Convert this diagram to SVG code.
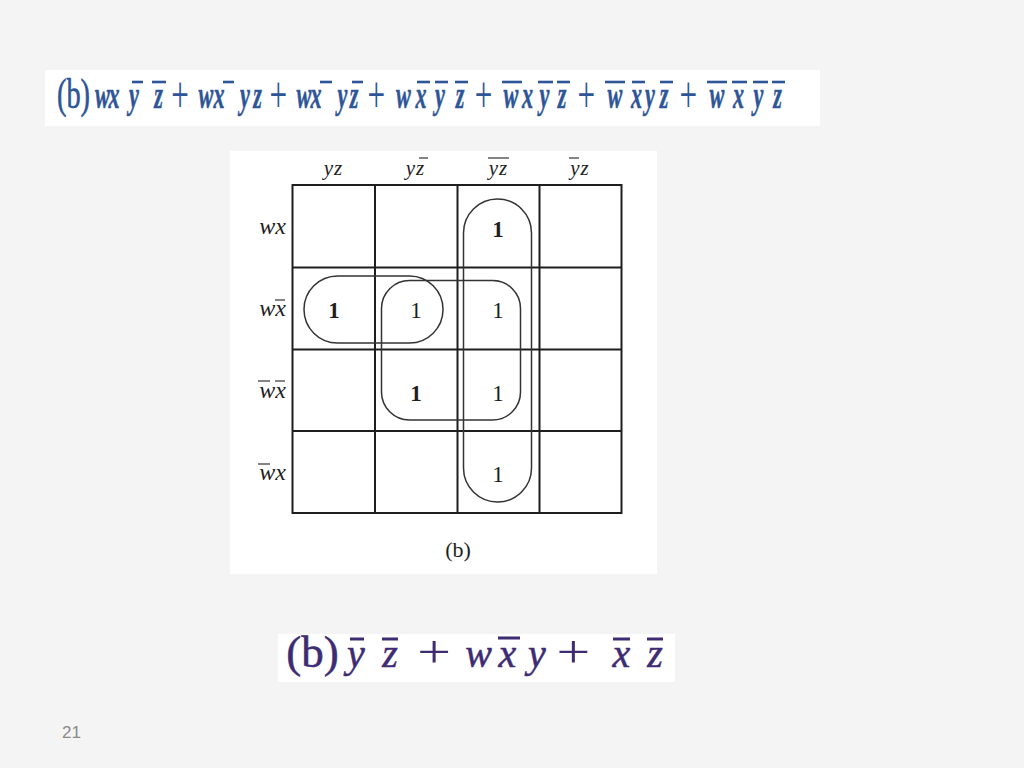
<svg xmlns="http://www.w3.org/2000/svg" width="1024" height="768" viewBox="0 0 1024 768">
<style>
.f1{font-family:"Liberation Serif","Times New Roman",serif;fill:#2e5597}
.bar1{stroke:#2e5597;stroke-width:2.6}
.f2{font-family:"Liberation Serif","Times New Roman",serif;fill:#3d2b73}
.bar2{stroke:#3d2b73;stroke-width:3}
.km{font-family:"Liberation Serif","Times New Roman",serif;fill:#1e1e1e;font-style:italic}
.cap{font-family:"Liberation Serif","Times New Roman",serif;fill:#1e1e1e;font-size:22px;text-anchor:middle}
.one{font-family:"Liberation Serif","Times New Roman",serif;fill:#1e1e1e;font-size:23px;text-anchor:middle}
.grid{stroke:#1e1e1e;stroke-width:2;fill:none}
.loop{stroke:#333;stroke-width:1.5;fill:none}
.kbar{stroke:#333;stroke-width:1.2}
.lt{font-size:37px;font-style:italic;font-weight:bold;text-anchor:middle;stroke:#2e5597;stroke-width:0.5}
.p1{font-size:52px;text-anchor:middle}
.p2{font-size:46px;text-anchor:middle}
</style>
<rect x="0" y="0" width="1024" height="768" fill="#f4f4f4"/>

<g id="top-formula">
<rect x="45" y="70" width="775" height="56" fill="#ffffff"/>
<text class="f1" transform="translate(73.5,108) scale(0.66,1)" font-size="43" text-anchor="middle" stroke="#2e5597" stroke-width="0.6">(b)</text>
<g transform="scale(0.6,1)">
<text class="f1 lt" y="108" x="170.8 190 223.3 264.2">wxyz</text>
<text class="f1 lt" y="108" x="343.3 365 408.3 429.2">wxyz</text>
<text class="f1 lt" y="108" x="506.7 526.7 570.8 590">wxyz</text>
<text class="f1 lt" y="108" x="672.5 701.7 733.3 766.7">wxyz</text>
<text class="f1 lt" y="108" x="851.7 879.2 907.5 936.7">wxyz</text>
<text class="f1 lt" y="108" x="1025 1060.8 1083.3 1106.7">wxyz</text>
<text class="f1 lt" y="108" x="1195 1230.8 1264.2 1295.8">wxyz</text>
<text class="f1 p1" y="112" x="300">+</text>
<text class="f1 p1" y="112" x="464">+</text>
<text class="f1 p1" y="112" x="627">+</text>
<text class="f1 p1" y="112" x="806">+</text>
<text class="f1 p1" y="112" x="977">+</text>
<text class="f1 p1" y="112" x="1147">+</text>
</g>
<g class="bar1">
<line x1="132" y1="82" x2="143" y2="82"/><line x1="152" y1="82" x2="166" y2="82"/>
<line x1="223" y1="82" x2="234" y2="82"/>
<line x1="320" y1="82" x2="332" y2="82"/><line x1="352" y1="82" x2="363" y2="82"/>
<line x1="417" y1="82" x2="430" y2="82"/><line x1="435" y1="82" x2="448" y2="82"/><line x1="455" y1="82" x2="468" y2="82"/>
<line x1="502" y1="82" x2="522" y2="82"/><line x1="538" y1="82" x2="553" y2="82"/><line x1="557" y1="82" x2="570" y2="82"/>
<line x1="605" y1="82" x2="625" y2="82"/><line x1="632" y1="82" x2="645" y2="82"/><line x1="660" y1="82" x2="673" y2="82"/>
<line x1="707" y1="82" x2="727" y2="82"/><line x1="732" y1="82" x2="747" y2="82"/><line x1="753" y1="82" x2="768" y2="82"/><line x1="772" y1="82" x2="785" y2="82"/>
</g>
</g>

<g id="kmap">
<rect x="230" y="151" width="427" height="423" fill="#ffffff"/>
<g class="grid">
<rect x="292.5" y="185" width="329" height="328"/>
<line x1="375" y1="185" x2="375" y2="513"/>
<line x1="457.5" y1="185" x2="457.5" y2="513"/>
<line x1="539.5" y1="185" x2="539.5" y2="513"/>
<line x1="292.5" y1="267.5" x2="621.5" y2="267.5"/>
<line x1="292.5" y1="349.5" x2="621.5" y2="349.5"/>
<line x1="292.5" y1="431" x2="621.5" y2="431"/>
</g>
<g id="col-labels">
<text class="km" font-size="21" text-anchor="middle" x="333.5" y="175" letter-spacing="1">yz</text>
<text class="km" font-size="21" text-anchor="middle" x="415.5" y="175" letter-spacing="1">yz</text>
<text class="km" font-size="21" text-anchor="middle" x="498.5" y="175" letter-spacing="1">yz</text>
<text class="km" font-size="21" text-anchor="middle" x="580" y="175" letter-spacing="1">yz</text>
<g class="kbar">
<line x1="419" y1="158" x2="428" y2="158"/>
<line x1="488" y1="158" x2="509" y2="158"/>
<line x1="569" y1="158" x2="579" y2="158"/>
</g>
</g>
<g id="row-labels">
<text class="km" font-size="24" text-anchor="end" x="286" y="234">wx</text>
<text class="km" font-size="24" text-anchor="end" x="286" y="316">wx</text>
<text class="km" font-size="24" text-anchor="end" x="286" y="398">wx</text>
<text class="km" font-size="24" text-anchor="end" x="286" y="480">wx</text>
<g class="kbar">
<line x1="275" y1="300" x2="285" y2="300"/>
<line x1="258" y1="381" x2="270" y2="381"/><line x1="275" y1="381" x2="285" y2="381"/>
<line x1="258" y1="464" x2="270" y2="464"/>
</g>
</g>
<g id="ones">
<text class="one" x="498" y="237" font-weight="bold">1</text>
<text class="one" x="334" y="318" font-weight="bold">1</text>
<text class="one" x="416" y="318">1</text>
<text class="one" x="498" y="318">1</text>
<text class="one" x="416" y="401" font-weight="bold">1</text>
<text class="one" x="498" y="401">1</text>
<text class="one" x="498" y="482">1</text>
</g>
<g id="loops">
<rect class="loop" x="463.5" y="199" width="68" height="303" rx="34" ry="34"/>
<rect class="loop" x="304" y="276" width="139" height="67" rx="33.5" ry="33.5"/>
<rect class="loop" x="381.5" y="280.5" width="139" height="139.5" rx="28" ry="28"/>
</g>
<text class="cap" x="458" y="557">(b)</text>
</g>

<g id="bottom-formula">
<rect x="278" y="634" width="397" height="48" fill="#ffffff"/>
<text class="f2" x="312.5" y="667" font-size="45" text-anchor="middle" stroke="#3d2b73" stroke-width="0.5">(b)</text>
<text class="f2" y="667" font-size="40" font-style="italic" text-anchor="middle" stroke="#3d2b73" stroke-width="0.5" x="356 390">yz</text>
<text class="f2" y="667" font-size="40" font-style="italic" text-anchor="middle" stroke="#3d2b73" stroke-width="0.5" x="478.5 507.5 537">wxy</text>
<text class="f2" y="667" font-size="40" font-style="italic" text-anchor="middle" stroke="#3d2b73" stroke-width="0.5" x="621.5 655">xz</text>
<g transform="scale(1.3,1)">
<text class="f2 p2" y="667" x="334">+</text>
<text class="f2 p2" y="667" x="441">+</text>
</g>
<g class="bar2">
<line x1="350" y1="639" x2="364" y2="639"/>
<line x1="382" y1="639" x2="398" y2="639"/>
<line x1="498" y1="638" x2="520" y2="638"/>
<line x1="613" y1="639" x2="630" y2="639"/>
<line x1="647" y1="639" x2="663" y2="639"/>
</g>
</g>

<text x="62" y="738" font-family="Liberation Sans, Arial, sans-serif" font-size="17" fill="#8a8a8a">21</text>
</svg>
